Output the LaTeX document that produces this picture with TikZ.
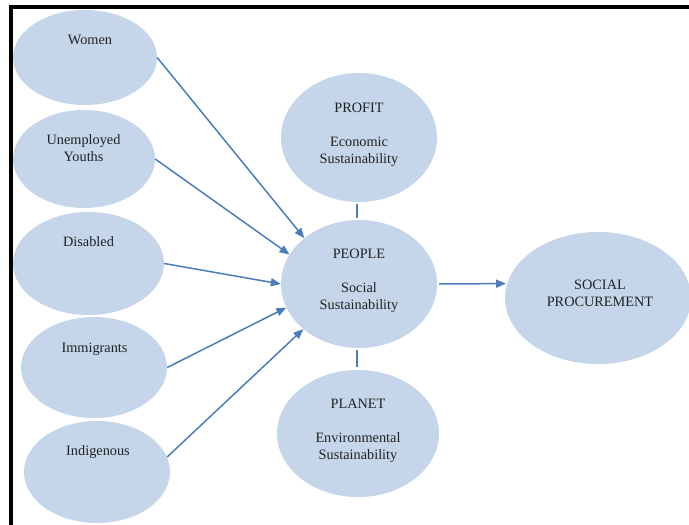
\documentclass[tikz,border=0pt]{standalone}
\usepackage{fontspec}
\setmainfont{Liberation Serif}
\usetikzlibrary{arrows.meta,shapes.geometric}
\definecolor{ellfill}{RGB}{197,213,234}
\definecolor{arrowblue}{RGB}{74,126,187}
\definecolor{txt}{RGB}{34,34,34}
\begin{document}
\begin{tikzpicture}[x=1pt,y=-1pt,
  ell/.style={ellipse,fill=ellfill,draw=none,inner sep=0pt},
  lbl/.style={anchor=north,align=center,inner sep=0pt,text=txt,font=\fontsize{14.3}{17}\selectfont},
  conn/.style={draw=arrowblue,line width=1.5pt},
  arr/.style={conn,-{Triangle[length=10pt,width=8pt]}}]
\useasboundingbox (0,0) rectangle (689,525);
\fill[white] (0,0) rectangle (689,525);
% frame
\draw[line width=4pt,black] (11,525) -- (11,7) -- (689,7);
% ellipses
\node[ell,minimum width=144pt,minimum height=95pt] (women) at (85,57.5) {};
\node[ell,minimum width=142pt,minimum height=98pt] (unemp) at (84,159) {};
\node[ell,minimum width=151pt,minimum height=103pt] (disab) at (88.5,263.5) {};
\node[ell,minimum width=146pt,minimum height=101pt] (immig) at (94,367.5) {};
\node[ell,minimum width=146pt,minimum height=102pt] (indig) at (97,472) {};
\node[ell,minimum width=156pt,minimum height=129pt] (profit) at (359,137.5) {};
\node[ell,minimum width=156pt,minimum height=128pt] (people) at (359,284) {};
\node[ell,minimum width=162pt,minimum height=127pt] (planet) at (358,433.5) {};
\node[ell,minimum width=186pt,minimum height=132pt] (socproc) at (598,298) {};
% labels
\node[lbl] (twomen) at (90,34.5) {Women};
\node[lbl] (tunemp) at (83.5,134.5) {Unemployed\\Youths};
\node[lbl] (tdisab) at (88.5,236.5) {Disabled};
\node[lbl] (timmig) at (94.5,342.5) {Immigrants};
\node[lbl] (tindig) at (98,445.5) {Indigenous};
\node[lbl] (tprofit) at (359,102.5) {PROFIT\\[17pt]Economic\\Sustainability};
\node[lbl] (tpeople) at (359,248.5) {PEOPLE\\[17pt]Social\\Sustainability};
\node[lbl] (tplanet) at (358,398.5) {PLANET\\[17pt]Environmental\\Sustainability};
\node[lbl] (tsoc) at (600,279.5) {SOCIAL\\PROCUREMENT};
% connectors
\draw[arr] (women.east) -- (people.140.5);
\draw[arr] (unemp.east) -- (people.157.8);
\draw[arr] (disab.east) -- (people.180);
\draw[arr] (immig.east) -- (people.198);
\draw[arr] (indig.12) -- (people.219.5);
\draw[arr,shorten <=2pt,shorten >=1pt] (people.east) -- (socproc.171.2);
\draw[conn,shorten <=1.5pt,shorten >=2pt] ([xshift=-2pt]profit.south) -- ([xshift=-2pt]people.north);
\draw[conn,shorten <=2pt,shorten >=3pt] ([xshift=-2pt]people.south) -- ([xshift=-1pt]planet.north);
\end{tikzpicture}
\end{document}
